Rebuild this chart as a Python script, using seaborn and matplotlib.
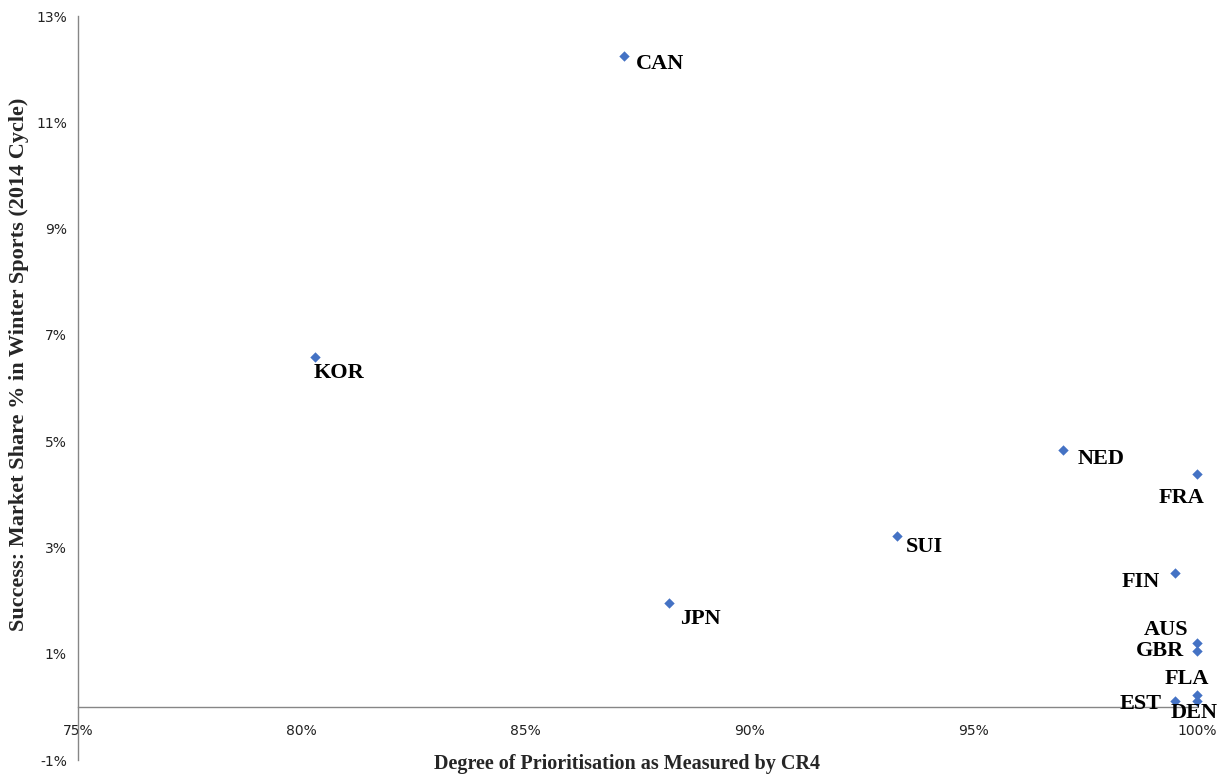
import matplotlib
matplotlib.use("Agg")
import matplotlib.pyplot as plt
import matplotlib.ticker as mticker
import seaborn as sns
import pandas as pd

countries = ["CAN", "KOR", "NED", "FRA", "SUI", "FIN", "JPN", "AUS", "GBR", "FLA", "EST", "DEN"]
cr4 = [87.2, 80.3, 97.0, 100.0, 93.3, 99.5, 88.2, 100.0, 100.0, 100.0, 99.5, 100.0]
share = [12.25, 6.58, 4.83, 4.38, 3.21, 2.52, 1.95, 1.20, 1.05, 0.22, 0.11, 0.11]

x_ticks = [75, 80, 85, 90, 95, 100]
y_ticks = [-1, 1, 3, 5, 7, 9, 11, 13]

# label placement (offset pixels, horizontal alignment)
label_pos = {
    "CAN": (12, -8, "left"), "KOR": (-2, -16, "left"), "NED": (15, -9, "left"),
    "FRA": (-15, -24, "center"), "SUI": (9, -11, "left"), "FIN": (-15, -9, "right"),
    "JPN": (11, -16, "left"), "AUS": (-31, 13, "center"), "GBR": (-13, 0, "right"),
    "FLA": (-10, 16, "center"), "EST": (-13, -3, "right"), "DEN": (-3, -12, "center"),
}

df = pd.DataFrame({"country": countries, "cr4": cr4, "share": share})

sns.set_style("white")
fig = plt.figure(figsize=(12.26, 7.83), dpi=100)
ax = fig.add_axes([78 / 1226, 1 - 760 / 783, (1197 - 78) / 1226, (760 - 16) / 783])

sns.scatterplot(data=df, x="cr4", y="share", marker="D", s=28, color="#4472C4",
                edgecolor="#4472C4", linewidth=0, ax=ax, zorder=3, clip_on=False)

for c, xv, yv in zip(countries, cr4, share):
    dx, dy, ha = label_pos[c]
    ax.annotate(c, (xv, yv), xytext=(dx, dy), textcoords="offset pixels",
                ha=ha, va="center", fontsize=16, fontweight="bold",
                family="Liberation Serif", color="black", zorder=4,
                annotation_clip=False)

ax.set_xlim(75, 100)
ax.set_ylim(-1, 13)
ax.set_xticks(x_ticks)
ax.set_yticks(y_ticks)
ax.xaxis.set_major_formatter(mticker.FuncFormatter(lambda v, p: f"{v:.0f}%"))
ax.yaxis.set_major_formatter(mticker.FuncFormatter(lambda v, p: f"{v:.0f}%"))

for s in ["top", "right"]:
    ax.spines[s].set_visible(False)
ax.spines["bottom"].set_position(("data", 0))
for s in ["left", "bottom"]:
    ax.spines[s].set_color("#868686")
    ax.spines[s].set_linewidth(1.0)

ax.tick_params(axis="both", which="major", length=4, width=1, color="#868686",
               labelsize=10, labelcolor="#222222", direction="out")
ax.tick_params(axis="x", pad=8)
ax.tick_params(axis="y", pad=4)
for lab in ax.get_xticklabels() + ax.get_yticklabels():
    lab.set_family("DejaVu Sans")

ax.set_xlabel("")
ax.set_ylabel("")
fig.text(627 / 1226, 1 - 764 / 783, "Degree of Prioritisation as Measured by CR4",
         ha="center", va="center", fontsize=14.5, fontweight="bold", family="Liberation Serif")
fig.text(19 / 1226, 1 - 364 / 783, "Success: Market Share % in Winter Sports (2014 Cycle)",
         ha="center", va="center", rotation=90, fontsize=16, fontweight="bold",
         family="Liberation Serif")

fig.savefig("out.png", dpi=100)
